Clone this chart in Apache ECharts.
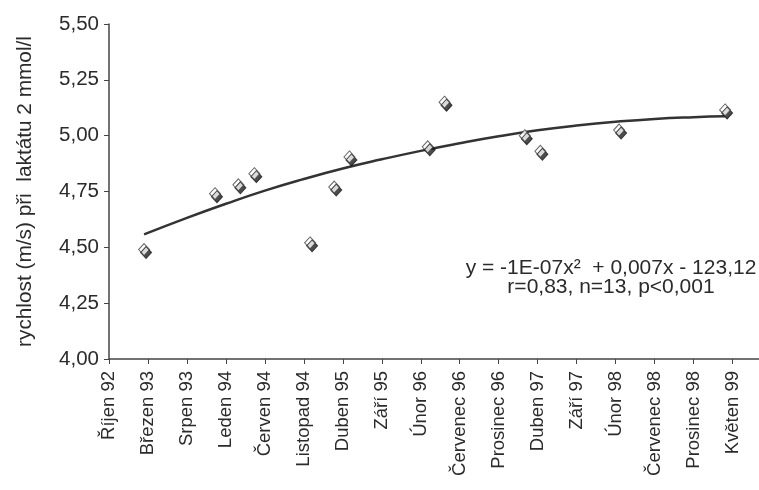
<!DOCTYPE html>
<html>
<head>
<meta charset="utf-8">
<script src="https://cdn.jsdelivr.net/npm/echarts@6/dist/echarts.min.js"></script>
<style>
html,body{margin:0;padding:0;background:#fff;}
#chart{width:759px;height:490px;}
</style>
</head>
<body>
<div id="chart"></div>
<script>
// Tick labels (every 5 months, starting Říjen 92)
var tickLabels = ['Říjen 92','Březen 93','Srpen 93','Leden 94','Červen 94','Listopad 94','Duben 95','Září 95','Únor 96','Červenec 96','Prosinec 96','Duben 97','Září 97','Únor 98','Červenec 98','Prosinec 98','Květen 99'];
var tickMonths = [0,5,10,15,20,25,30,35,40,45,50,55,60,65,70,75,80];
// Measurements: months since Říjen 92, speed (m/s) at lactate 2 mmol/l
var measMonths = [4.5, 13.6, 16.6, 18.65, 25.8, 28.9, 30.85, 40.9, 43.05, 53.35, 55.35, 65.45, 79.05];
var measSpeed  = [4.49, 4.74, 4.78, 4.83, 4.52, 4.77, 4.905, 4.95, 5.15, 5.00, 4.93, 5.025, 5.115];
// Polynomial trend curve
var trendMonths = [4.5, 10, 15, 20, 25, 30, 35, 40, 45, 50, 55, 60, 65, 70, 75, 79.05];
var trendSpeed  = [4.558, 4.632, 4.695, 4.754, 4.806, 4.853, 4.894, 4.932, 4.966, 4.997, 5.024, 5.045, 5.062, 5.075, 5.083, 5.087];
var yTicks = [4.00, 4.25, 4.50, 4.75, 5.00, 5.25, 5.50];
var equationLines = ['y = -1E-07x²  + 0,007x - 123,12', 'r=0,83, n=13, p<0,001'];

var FONT = "'Liberation Sans', Arial, sans-serif";
var INK = '#2b2b2b';

var chart = echarts.init(document.getElementById('chart'), null, {renderer: 'canvas'});

var scatterData = measMonths.map(function (m, i) { return [m, measSpeed[i]]; });
var trendData = trendMonths.map(function (m, i) { return [m, trendSpeed[i]]; });

chart.setOption({
  animation: false,
  backgroundColor: '#ffffff',
  title: {
    text: equationLines.join('\n'),
    left: 606,
    top: 254,
    textAlign: 'center',
    textStyle: {fontFamily: FONT, fontSize: 21, fontWeight: 'normal', color: INK, lineHeight: 19}
  },
  grid: {left: 109, right: 0, top: 24, bottom: 131, containLabel: false},
  xAxis: {
    type: 'value',
    min: 0,
    max: 83.4,
    interval: 5,
    splitLine: {show: false},
    axisLine: {show: true, onZero: false, lineStyle: {color: '#444', width: 1.5}},
    axisTick: {show: true, length: 5, customValues: tickMonths, lineStyle: {color: '#444', width: 1}},
    axisLabel: {
      show: true,
      showMaxLabel: false,
      showMinLabel: true,
      hideOverlap: false,
      rotate: 90,
      margin: 12,
      fontFamily: FONT,
      fontSize: 18.5,
      color: INK,
      formatter: function (v) {
        var idx = tickMonths.indexOf(Math.round(v * 1000) / 1000);
        return idx >= 0 ? tickLabels[idx] : '';
      }
    }
  },
  yAxis: {
    type: 'value',
    min: yTicks[0],
    max: yTicks[yTicks.length - 1],
    interval: 0.25,
    name: 'rychlost (m/s) při  laktátu 2 mmol/l',
    nameLocation: 'middle',
    nameGap: 73,
    nameTextStyle: {fontFamily: FONT, fontSize: 20.8, color: INK},
    splitLine: {show: false},
    axisLine: {show: true, lineStyle: {color: '#444', width: 1.5}},
    axisTick: {show: true, length: 5, lineStyle: {color: '#444', width: 1}},
    axisLabel: {
      margin: 10,
      fontFamily: FONT,
      fontSize: 20.5,
      color: INK,
      formatter: function (v) { return v.toFixed(2).replace('.', ','); }
    }
  },
  series: [
    {
      type: 'line',
      data: trendData,
      smooth: true,
      showSymbol: false,
      symbol: 'none',
      lineStyle: {color: '#333', width: 2.5},
      z: 2
    },
    {
      type: 'scatter',
      data: scatterData,
      symbol: 'diamond',
      symbolSize: [11, 12],
      itemStyle: {
        color: '#ffffff',
        borderColor: '#444',
        borderWidth: 1,
        shadowColor: 'rgba(20,20,20,0.95)',
        shadowBlur: 0,
        shadowOffsetX: 2,
        shadowOffsetY: 3
      },
      z: 3
    }
  ]
});
</script>
</body>
</html>
